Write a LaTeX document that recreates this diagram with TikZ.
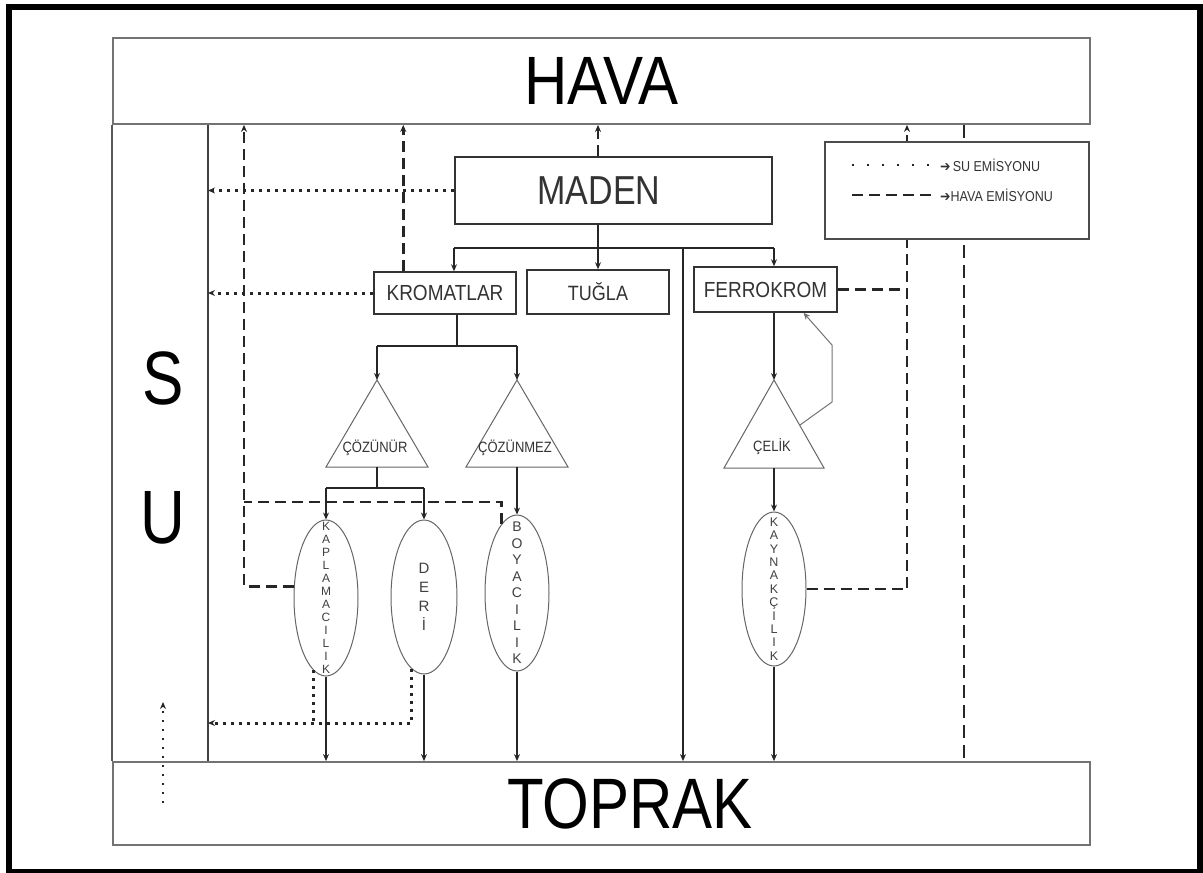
\documentclass[tikz,border=0pt]{standalone}
\usepackage{fontspec}
\setmainfont{Liberation Sans}
\newfontfamily\symfont{DejaVu Sans}
\usetikzlibrary{positioning,shapes.geometric,arrows.meta}
\newcommand\fsz[1]{\fontsize{#1}{#1}\selectfont}
\newcommand\talltext[2][1.15]{\scalebox{1}[#1]{#2}}

\begin{document}
\begin{tikzpicture}[
    x=1pt, y=-1pt,
    bigbox/.style={rectangle, draw=black!55, line width=1.8pt, inner sep=0pt},
    box/.style={rectangle, draw=black!80, line width=1.5pt, inner sep=0pt, text=black!80, font=\fsz{19}},
    oval/.style={ellipse, draw=black!60, line width=1pt, minimum width=64pt, minimum height=156pt, inner sep=0pt},
    tri/.style={draw=black!60, line width=1pt},
    vtext/.style={align=center, text=black!75, inner sep=0pt},
    lbl/.style={text=black!80, font=\fsz{13}, inner sep=0pt},
    big/.style={font=\fsz{60}, inner sep=0pt},
    flow/.style={line width=1.3pt, draw=black!85},
    arrow/.style={->, >={Stealth[length=7pt,width=6pt]}},
    havaline/.style={line width=2.9pt, draw=black!85, dash pattern=on 11pt off 6pt},
    suline/.style={line width=3pt, draw=black!85, dash pattern=on 3pt off 5pt},
]
\useasboundingbox (0,0) rectangle (1203,873);
\draw[line width=6pt] (8.5,6.5) rectangle (1200,872);

\node[bigbox, minimum width=977pt, minimum height=86pt] (hava) at (601.5,81) {\fsz{60}\talltext[1.14]{HAVA}};
\node[bigbox, minimum width=977pt, minimum height=83pt] (toprak) at (601.5,803.5) {};
\node[big] (topraktxt) at (630,804) {\talltext[1.19]{TOPRAK}};

\coordinate (su) at (208,0);
\draw[line width=1.8pt, black!65] (hava.south west) -- (toprak.north west);
\draw[line width=1.8pt, black!75] (hava.south -| su) -- (toprak.north -| su);
\node[big, font=\fsz{62}] (s) at (163,378) {\talltext[1.22]{S}};
\node[big, font=\fsz{62}] (u) at (163,518) {\talltext[1.22]{U}};

\node[box, minimum width=317pt, minimum height=67pt, font=\fsz{34}] (maden) at (613.5,190.5) {\hspace*{-29pt}\talltext[1.19]{MADEN}};
\node[box, minimum width=142pt, minimum height=42pt] (krom) at (445,293) {\talltext{KROMATLAR}};
\node[box, minimum width=142pt, minimum height=44pt, font=\fsz{18}] (tugla) at (598,292) {\talltext{TUĞLA}};
\node[box, minimum width=143pt, minimum height=45pt] (ferro) at (765.5,289.5) {\talltext{FERROKROM}};

\coordinate (cozA) at (377,380);
\coordinate (cozB) at (377,467);
\draw[tri] (cozA) -- (428,467) -- (326,467) -- cycle;
\node[lbl] (coz) at (375,448) {\talltext{ÇÖZÜNÜR}};
\coordinate (cozmA) at (517,380);
\coordinate (cozmB) at (517,467);
\draw[tri] (cozmA) -- (568,467) -- (466,467) -- cycle;
\node[lbl] (cozm) at (515,448) {\talltext{ÇÖZÜNMEZ}};
\coordinate (celA) at (774,380);
\coordinate (celB) at (774,468);
\coordinate (celR) at (800,425);
\draw[tri] (celA) -- (824,468) -- (724,468) -- cycle;
\node[lbl] (cel) at (772,447) {\talltext{ÇELİK}};

\node[oval] (kap) at (326,598) {};
\node[oval, minimum width=66pt, minimum height=154pt] (deri) at (424,597) {};
\node[oval] (boy) at (517,593) {};
\node[oval, minimum height=154pt] (kay) at (774,589) {};
\node[vtext, font=\fontsize{12}{13}\selectfont] (kaptxt) at (kap) {K\\A\\P\\L\\A\\M\\A\\C\\I\\L\\I\\K};
\node[vtext, font=\fontsize{15}{19}\selectfont] (deritxt) at (deri) {D\\E\\R\\İ};
\node[vtext, font=\fontsize{14}{16.5}\selectfont] (boytxt) at (boy) {B\\O\\Y\\A\\C\\I\\L\\I\\K};
\node[vtext, font=\fontsize{12.5}{13.4}\selectfont] (kaytxt) at (kay) {K\\A\\Y\\N\\A\\K\\Ç\\I\\L\\I\\K};

\coordinate (busL) at (454,248);
\coordinate (busR) at (774,248);
\coordinate (busM) at (683,248);
\draw[flow, arrow] (tugla.north |- maden.south) -- (tugla.north);
\draw[flow] (busL) -- (busR);
\draw[flow, arrow] (busL) -- (busL |- krom.north);
\draw[flow, arrow] (busR) -- (busR |- ferro.north);
\draw[flow, arrow] (busM) -- (busM |- toprak.north);

\coordinate (kb) at (457,346);
\draw[flow] (kb |- krom.south) -- (kb);
\draw[flow] (cozA |- kb) -- (cozmA |- kb);
\draw[flow, arrow] (cozA |- kb) -- (cozA);
\draw[flow, arrow] (cozmA |- kb) -- (cozmA);

\coordinate (cb) at (377,488);
\draw[flow] (cozB) -- (cb);
\draw[flow] (kap.north |- cb) -- (deri.north |- cb);
\draw[flow, arrow] (kap.north |- cb) -- (kap.north);
\draw[flow, arrow] (deri.north |- cb) -- (deri.north);
\draw[flow, arrow] (cozmB) -- (boy.north);

\draw[flow, arrow] (ferro.south -| celA) -- (celA);
\draw[flow, arrow] (celB) -- (kay.north);
\draw[line width=1pt, black!55, arrow] (celR) -- (832,402) -- (832,345) -- ([xshift=38pt]ferro.south);

\draw[flow, arrow] (kap.south) -- (kap.south |- toprak.north);
\draw[flow, arrow] (deri.south) -- (deri.south |- toprak.north);
\draw[flow, arrow] (boy.south) -- (boy.south |- toprak.north);
\draw[flow, arrow] (kay.south) -- (kay.south |- toprak.north);

\coordinate (hv1) at (244,502);
\coordinate (hv2) at (907,0);
\coordinate (hv3) at (964,0);
\coordinate (kup) at ([xshift=30pt]krom.north west);
\draw[havaline] (boy.103) -- (boy.103 |- hv1) -- (hv1);
\draw[havaline, arrow] (kap.160) -- (kap.160 -| hv1) -- (hv1 |- hava.south);
\draw[havaline, arrow] (kup) -- (kup |- hava.south);
\draw[havaline, arrow] (tugla.north |- maden.north) -- (tugla.north |- hava.south);
\draw[havaline] (ferro.east) -- (ferro.east -| hv2);
\draw[havaline, arrow] (kay.east) -- (kay.east -| hv2) -- (hv2 |- hava.south);
\draw[havaline, line width=2pt, dash pattern=on 13pt off 7pt] (hv3 |- hava.south) -- (hv3 |- toprak.north);

\coordinate (sd) at (0,723);
\coordinate (sa) at (163,803);
\coordinate (sb) at (163,702);
\draw[suline, arrow] (maden.west) -- (maden.west -| su);
\draw[suline, arrow] (krom.west) -- (krom.west -| su);
\draw[suline] (kap.260) -- (kap.260 |- sd);
\draw[suline, arrow] (deri.260) -- (deri.260 |- sd) -- (sd -| su);
\draw[suline, line width=2pt, dash pattern=on 2pt off 7pt, arrow] (sa) -- (sb);

\node[rectangle, draw=black!70, line width=1.5pt, fill=white, minimum width=264pt, minimum height=97pt] (legend) at (957,190.5) {};
\coordinate (lg1) at (852,165);
\coordinate (lg2) at (852,195);
\node[lbl, anchor=west, font=\fsz{12.5}] (legsu) at (940,165) {\talltext{{\symfont ➔}\,SU EMİSYONU}};
\node[lbl, anchor=west, font=\fsz{12.5}] (leghava) at (940,195) {\talltext{{\symfont ➔}HAVA EMİSYONU}};
\draw[suline, line width=2pt, dash pattern=on 2pt off 13pt] (lg1) -- ([xshift=-6pt]legsu.west);
\draw[havaline] (lg2) -- ([xshift=-8pt]leghava.west);

\end{tikzpicture}
\end{document}
